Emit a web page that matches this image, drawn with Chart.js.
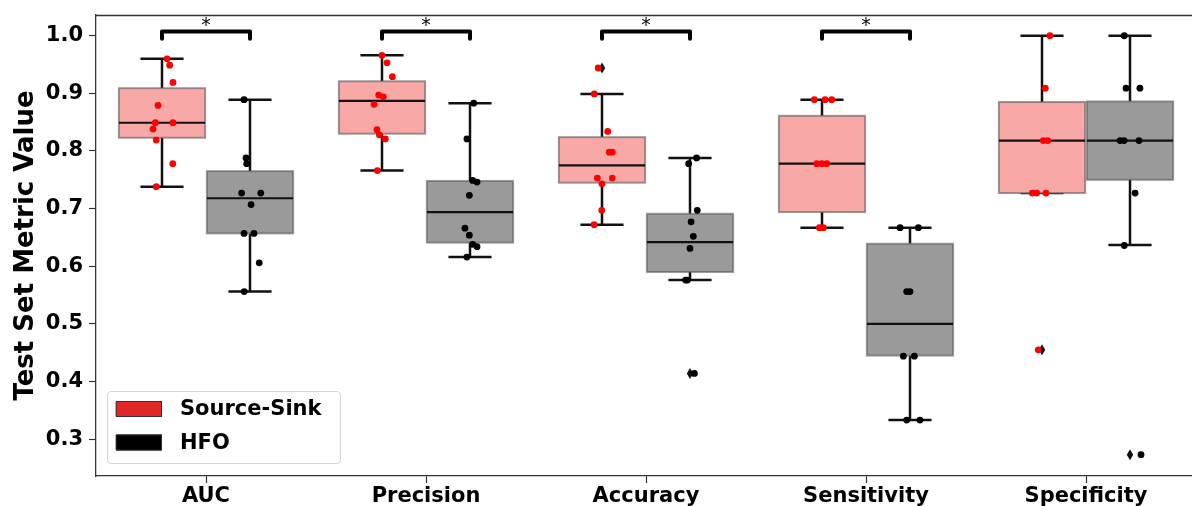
<!DOCTYPE html>
<html>
<head>
<meta charset="utf-8">
<script src="https://cdn.jsdelivr.net/npm/chart.js@4.4.1/dist/chart.umd.min.js"></script>
<style>
  html, body { margin: 0; padding: 0; background: #fff; overflow: hidden; }
  canvas { display: block; }
</style>
</head>
<body>
<canvas id="c" width="1200" height="506"></canvas>
<script>
// ---------- data ----------
const categories = ['AUC', 'Precision', 'Accuracy', 'Sensitivity', 'Specificity'];
const seriesNames = ['Source-Sink', 'HFO'];
const tickValues = [0.3, 0.4, 0.5, 0.6, 0.7, 0.8, 0.9, 1.0];
const significant = [true, true, true, true, false];

// Source-Sink box statistics
const ssWhiskerLow  = [0.738, 0.766, 0.672, 0.667, 0.727];
const ssQ1          = [0.823, 0.830, 0.745, 0.694, 0.727];
const ssMedian      = [0.849, 0.887, 0.775, 0.778, 0.818];
const ssQ3          = [0.909, 0.921, 0.824, 0.861, 0.885];
const ssWhiskerHigh = [0.960, 0.966, 0.899, 0.889, 1.000];
const ssOutliers    = [[], [], [0.944], [], [0.455]];

// HFO box statistics
const hfoWhiskerLow  = [0.556, 0.616, 0.576, 0.333, 0.637];
const hfoQ1          = [0.657, 0.641, 0.590, 0.445, 0.750];
const hfoMedian      = [0.718, 0.694, 0.642, 0.500, 0.818];
const hfoQ3          = [0.765, 0.748, 0.691, 0.639, 0.886];
const hfoWhiskerHigh = [0.889, 0.883, 0.788, 0.667, 1.000];
const hfoOutliers    = [[], [], [0.414], [], [0.273]];

// individual (strip) points per category, with horizontal jitter in category units
const ssValues = [
  [0.960, 0.949, 0.919, 0.879, 0.849, 0.849, 0.838, 0.819, 0.778, 0.738],
  [0.966, 0.953, 0.929, 0.897, 0.894, 0.881, 0.837, 0.828, 0.821, 0.766],
  [0.944, 0.899, 0.834, 0.798, 0.798, 0.753, 0.753, 0.743, 0.697, 0.672],
  [0.889, 0.889, 0.889, 0.778, 0.778, 0.778, 0.667, 0.667],
  [1.000, 0.909, 0.818, 0.818, 0.727, 0.727, 0.727, 0.455]
];
const ssJitter = [
  [0.023, 0.035, 0.050, -0.018, -0.030, 0.050, -0.041, -0.026, 0.049, -0.026],
  [0.000, 0.023, 0.047, -0.015, 0.006, -0.036, -0.023, -0.012, 0.015, -0.021],
  [-0.017, -0.035, 0.026, 0.033, 0.047, -0.021, 0.047, 0.000, -0.001, -0.036],
  [-0.035, 0.014, 0.044, -0.024, -0.001, 0.021, -0.012, 0.006],
  [0.036, 0.015, 0.006, 0.026, -0.044, -0.024, 0.018, -0.017]
];
const hfoValues = [
  [0.889, 0.788, 0.778, 0.727, 0.727, 0.707, 0.657, 0.657, 0.606, 0.556],
  [0.883, 0.821, 0.749, 0.746, 0.723, 0.666, 0.654, 0.638, 0.634, 0.616],
  [0.788, 0.778, 0.697, 0.677, 0.652, 0.631, 0.576, 0.576, 0.414],
  [0.667, 0.667, 0.556, 0.556, 0.444, 0.444, 0.333, 0.333],
  [1.000, 0.909, 0.909, 0.818, 0.818, 0.818, 0.727, 0.636, 0.273]
];
const hfoJitter = [
  [-0.027, -0.018, -0.015, -0.038, 0.049, 0.005, -0.027, 0.018, 0.042, -0.026],
  [0.017, -0.014, 0.012, 0.032, -0.003, -0.023, -0.003, 0.012, 0.032, -0.014],
  [0.030, -0.006, 0.033, 0.005, 0.015, 0.000, -0.020, -0.012, 0.020],
  [-0.045, 0.038, -0.015, 0.000, -0.030, 0.020, -0.015, 0.045],
  [-0.026, -0.018, 0.045, -0.045, -0.027, 0.041, 0.023, -0.026, 0.050]
];

// ---------- styling ----------
const FONT = 'DejaVu Sans';
const groupOffset = [-0.2, 0.2];
const boxWidth = 0.392;
const boxFill = ['rgb(249,168,168)', 'rgb(154,154,154)'];
const pointColor = ['#ff0000', '#000000'];
const legendColor = ['#e02626', '#000000'];

const groups = [
  { lo: ssWhiskerLow, q1: ssQ1, med: ssMedian, q3: ssQ3, hi: ssWhiskerHigh, out: ssOutliers, vals: ssValues, jit: ssJitter },
  { lo: hfoWhiskerLow, q1: hfoQ1, med: hfoMedian, q3: hfoQ3, hi: hfoWhiskerHigh, out: hfoOutliers, vals: hfoValues, jit: hfoJitter }
];

function buildPoints(g, gi) {
  const pts = [];
  g.vals.forEach((arr, ci) => {
    arr.forEach((v, k) => pts.push({ x: ci + groupOffset[gi] + g.jit[ci][k], y: v }));
  });
  return pts;
}

const boxPlugin = {
  id: 'boxes',
  beforeDatasetsDraw(chart) {
    const { ctx } = chart;
    const xs = chart.scales.x, ys = chart.scales.y;
    ctx.save();
    groups.forEach((g, gi) => {
      categories.forEach((c, ci) => {
        const cx = ci + groupOffset[gi];
        const xl = xs.getPixelForValue(cx - boxWidth / 2);
        const xr = xs.getPixelForValue(cx + boxWidth / 2);
        const xm = xs.getPixelForValue(cx);
        const capL = xs.getPixelForValue(cx - boxWidth / 4);
        const capR = xs.getPixelForValue(cx + boxWidth / 4);
        const yq1 = ys.getPixelForValue(g.q1[ci]);
        const yq3 = ys.getPixelForValue(g.q3[ci]);
        const ymed = ys.getPixelForValue(g.med[ci]);
        const ylo = ys.getPixelForValue(g.lo[ci]);
        const yhi = ys.getPixelForValue(g.hi[ci]);
        // whiskers
        ctx.strokeStyle = '#111';
        ctx.lineWidth = 2.5;
        ctx.lineCap = 'butt';
        ctx.beginPath();
        ctx.moveTo(xm, yq3); ctx.lineTo(xm, yhi);
        ctx.moveTo(xm, yq1); ctx.lineTo(xm, ylo);
        ctx.moveTo(capL, yhi); ctx.lineTo(capR, yhi);
        ctx.moveTo(capL, ylo); ctx.lineTo(capR, ylo);
        ctx.stroke();
        // box
        ctx.fillStyle = boxFill[gi];
        ctx.fillRect(xl, yq3, xr - xl, yq1 - yq3);
        ctx.strokeStyle = 'rgba(90,90,90,0.6)';
        ctx.lineWidth = 2;
        ctx.strokeRect(xl, yq3, xr - xl, yq1 - yq3);
        // median
        ctx.strokeStyle = '#111';
        ctx.lineWidth = 2.2;
        ctx.beginPath();
        ctx.moveTo(xl, ymed); ctx.lineTo(xr, ymed);
        ctx.stroke();
        // outliers (thin diamonds)
        ctx.fillStyle = '#111';
        g.out[ci].forEach(v => {
          const py = ys.getPixelForValue(v);
          ctx.beginPath();
          ctx.moveTo(xm, py - 5.5);
          ctx.lineTo(xm + 3.2, py);
          ctx.lineTo(xm, py + 5.5);
          ctx.lineTo(xm - 3.2, py);
          ctx.closePath();
          ctx.fill();
        });
      });
    });
    ctx.restore();
  }
};

const overlayPlugin = {
  id: 'overlay',
  afterDatasetsDraw(chart) {
    const { ctx, chartArea } = chart;
    const xs = chart.scales.x, ys = chart.scales.y;
    ctx.save();
    // top spine
    ctx.strokeStyle = '#333';
    ctx.lineWidth = 1.3;
    ctx.beginPath();
    ctx.moveTo(chartArea.left, chartArea.top + 0.5);
    ctx.lineTo(chartArea.right, chartArea.top + 0.5);
    ctx.stroke();

    // significance brackets
    categories.forEach((c, ci) => {
      if (!significant[ci]) return;
      const x1 = xs.getPixelForValue(ci + groupOffset[0]);
      const x2 = xs.getPixelForValue(ci + groupOffset[1]);
      const yTop = ys.getPixelForValue(1.0075);
      const yEnd = ys.getPixelForValue(0.995);
      ctx.strokeStyle = '#000';
      ctx.lineWidth = 4;
      ctx.lineJoin = 'round';
      ctx.lineCap = 'round';
      ctx.beginPath();
      ctx.moveTo(x1, yEnd);
      ctx.lineTo(x1, yTop);
      ctx.lineTo(x2, yTop);
      ctx.lineTo(x2, yEnd);
      ctx.stroke();
      ctx.fillStyle = '#000';
      ctx.font = `19px "${FONT}"`;
      ctx.textAlign = 'center';
      ctx.textBaseline = 'middle';
      ctx.fillText('*', (x1 + x2) / 2, ys.getPixelForValue(1.017));
    });

    // legend
    const lx = chartArea.left + 11, ly = chartArea.bottom - 85;
    const lw = 233, lh = 72;
    ctx.fillStyle = 'rgba(255,255,255,0.85)';
    ctx.strokeStyle = '#d8d8d8';
    ctx.lineWidth = 1.2;
    ctx.beginPath();
    ctx.roundRect(lx + 0.5, ly + 0.5, lw, lh, 4);
    ctx.fill();
    ctx.stroke();
    seriesNames.forEach((name, i) => {
      const py = ly + 10 + i * 33.5;
      ctx.fillStyle = legendColor[i];
      ctx.fillRect(lx + 9, py, 46, 16);
      ctx.strokeStyle = '#333';
      ctx.lineWidth = 1;
      ctx.strokeRect(lx + 9.5, py + 0.5, 45, 15);
      ctx.fillStyle = '#000';
      ctx.font = `bold 21px "${FONT}"`;
      ctx.textAlign = 'left';
      ctx.textBaseline = 'middle';
      ctx.fillText(name, lx + 73, py + 9);
    });
    ctx.restore();
  }
};

const tickFont = { family: FONT, weight: 'bold', size: 21 };

new Chart(document.getElementById('c'), {
  type: 'scatter',
  data: {
    datasets: groups.map((g, gi) => ({
      label: seriesNames[gi],
      data: buildPoints(g, gi),
      backgroundColor: pointColor[gi],
      borderColor: pointColor[gi],
      borderWidth: 0,
      pointRadius: 3.4,
      pointHoverRadius: 3.4
    }))
  },
  options: {
    responsive: false,
    animation: false,
    events: [],
    layout: { padding: { left: 0, right: 4, top: 15, bottom: 0 } },
    plugins: { legend: { display: false }, tooltip: { enabled: false } },
    scales: {
      x: {
        type: 'linear',
        min: -0.5,
        max: 4.5,
        afterBuildTicks: s => { s.ticks = categories.map((c, i) => ({ value: i })); },
        afterFit: s => { s.height = 30; s.paddingLeft = 0; s.paddingRight = 0; },
        grid: { drawOnChartArea: false, drawTicks: true, tickLength: 7, tickColor: '#333', tickWidth: 1.2 },
        border: { display: true, color: '#333', width: 1.3 },
        ticks: {
          callback: v => categories[v],
          font: tickFont,
          color: '#000',
          padding: 1,
          maxRotation: 0,
          autoSkip: false
        }
      },
      y: {
        type: 'linear',
        min: 0.236,
        max: 1.036,
        afterBuildTicks: s => { s.ticks = tickValues.map(v => ({ value: v })); },
        afterFit: s => { s.width = 96; s.paddingTop = 0; s.paddingBottom = 0; },
        grid: { drawOnChartArea: false, drawTicks: true, tickLength: 7, tickColor: '#333', tickWidth: 1.2 },
        border: { display: true, color: '#333', width: 1.3 },
        ticks: {
          callback: v => Number(v).toFixed(1),
          font: tickFont,
          color: '#000',
          padding: 6
        },
        title: {
          display: true,
          text: 'Test Set Metric Value',
          font: { family: FONT, weight: 'bold', size: 26 },
          color: '#000',
          padding: { top: 11, bottom: 0 }
        }
      }
    }
  },
  plugins: [boxPlugin, overlayPlugin]
});
</script>
</body>
</html>
